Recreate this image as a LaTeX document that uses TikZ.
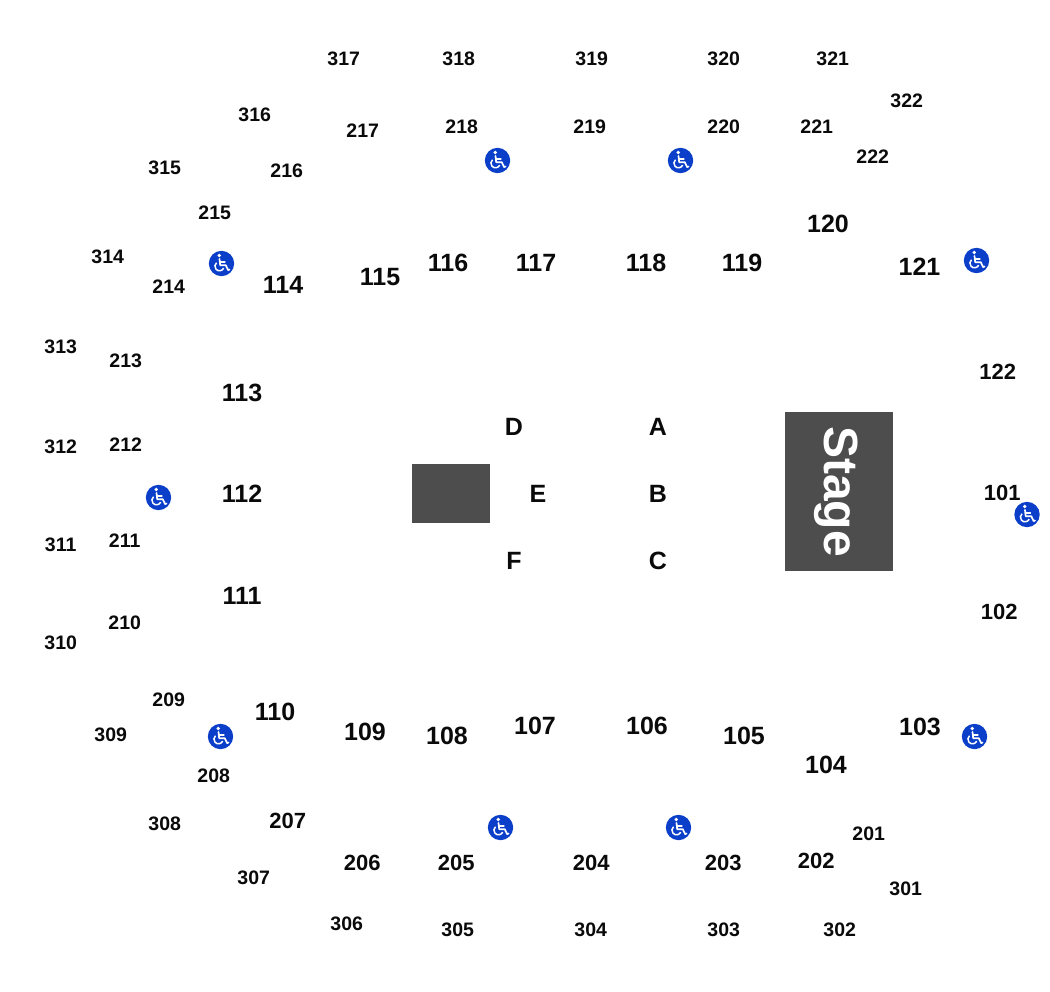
\documentclass[tikz,border=0pt]{standalone}
\usepackage{fontspec}
\setmainfont{Liberation Sans}
\definecolor{wcblue}{HTML}{0B3FC9}
\definecolor{blockgray}{HTML}{4D4D4D}
\definecolor{labelink}{HTML}{0A0A0A}
\tikzset{
  x=1pt,y=-1pt,
  small/.style={font=\fontsize{19.5}{20}\selectfont\bfseries,text=labelink,inner sep=0pt,xshift=0.7pt,yshift=-0.8pt},
  mid/.style={font=\fontsize{22}{22}\selectfont\bfseries,text=labelink,inner sep=0pt,xshift=0.3pt,yshift=-0.8pt},
  large/.style={font=\fontsize{25}{25}\selectfont\bfseries,text=labelink,inner sep=0pt},
  block/.style={fill=blockgray,draw=none},
  wheelchair/.pic={
    \fill[wcblue] (0,0) circle (12.7);
    \fill[white] (-2.2,-8) circle (1.9);
    \draw[white,line width=1.7,line cap=round,line join=round]
      (-2,-4.6) -- (-1.3,1.7) -- (4.3,1.7) -- (6.6,6.6) -- (8,6);
    \draw[white,line width=1.5,line cap=round] (-1.6,-1.6) -- (3.4,-1.6);
    \draw[white,line width=1.5] (-4.96,-0.82) arc[start angle=-130,end angle=-335,radius=4.6];
  }
}
\begin{document}
\begin{tikzpicture}
\useasboundingbox (0,0) rectangle (1050,992);
\fill[white] (0,0) rectangle (1050,992);
\fill[block] (785,412) rectangle (892.5,570.5);
\fill[block] (412,463.5) rectangle (490,522.5);
\node[rotate=-90,text=white,font=\fontsize{48}{48}\selectfont\bfseries,inner sep=0pt] (stage) at (836.5,491.5) {Stage};
\foreach \x/\y/\t in {
 343/58/317,458/58/318,591/58/319,723/58/320,832/58/321,906/100/322,
 254/114/316,362/130/217,461/126/218,589/126/219,723/126/220,816/126/221,872/156/222,
 164/167/315,286/170/216,214/212/215,107/256/314,168/286/214,
 60/346/313,125/360/213,60/446/312,125/444/212,60/544/311,124/540/211,
 60/642/310,124/622/210,168/699/209,110/734/309,213/775/208,164/823/308,
 253/877/307,346/923/306,457/929/305,590/929/304,723/929/303,839/929/302,905/888/301,868/833/201}
 {\node[small] (s\t) at (\x,\y) {\t};}
\foreach \x/\y/\t in {
 997.5/371/122,1002/492/101,999/611/102,287.5/820/207,362/862/206,456/862/205,591/862/204,723/862/203,816/860/202}
 {\node[mid] (s\t) at (\x,\y) {\t};}
\foreach \x/\y/\t in {
 828/224/120,919.5/267/121,283/285/114,380/277/115,448/263/116,536/263/117,646/263/118,742/263/119,
 242/393/113,242/494/112,242/596/111,275/712/110,365/732/109,447/736/108,535/726/107,647/726/106,
 744/736/105,826/765/104,920/727/103,
 514/427/D,658/427/A,538/494/E,658/494/B,514/561/F,658/561/C}
 {\node[large] (s\t) at (\x,\y) {\t};}
\foreach \x/\y/\n in {497.5/160.5/a,680.5/160.5/b,976.5/260.5/c,221.5/263.5/d,158.5/497.5/e,1027/514.5/f,
 220.5/736.5/g,974.5/736.5/h,500.5/827.5/i,678.5/827.5/j}
 {\pic (w\n) at (\x,\y) {wheelchair};}
\end{tikzpicture}
\end{document}
